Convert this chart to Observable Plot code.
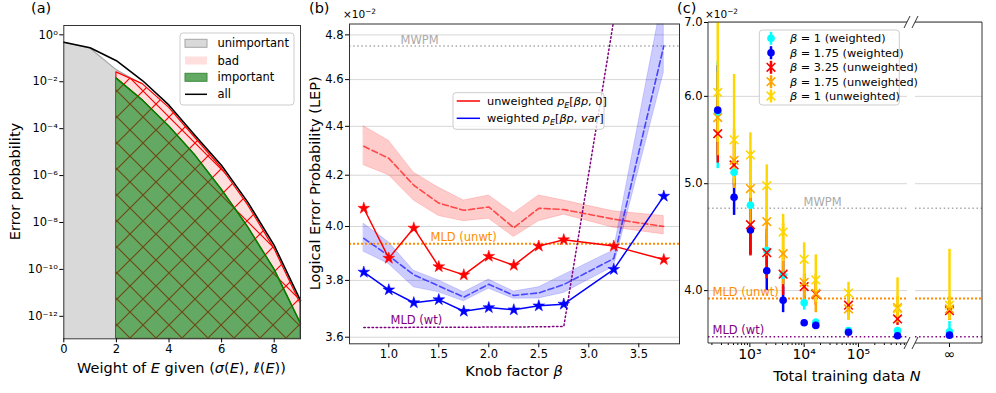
<!DOCTYPE html>
<html>
<head>
<meta charset="utf-8">
<script src="https://cdn.jsdelivr.net/npm/d3@7"></script>
<script src="https://cdn.jsdelivr.net/npm/@observablehq/plot@0.6"></script>
<style>
  html, body { margin: 0; padding: 0; background: #fff; }
  #chart { position: relative; width: 996px; height: 393px; overflow: hidden; font-family: "DejaVu Sans", sans-serif; }
  #chart > svg { position: absolute; left: 0; top: 0; }
</style>
</head>
<body>
<div id="chart"></div>
<script>
// ================= DATA =================
// ---- Panel (a) ----
const aWeights = [0, 1, 2, 3, 4, 5, 6, 7, 8, 9];
const aAll = [4.8e-1, 2.8e-1, 7.9e-2, 1.1e-2, 1.0e-3, 5.0e-5, 2.7e-6, 7.2e-8, 1.05e-9, 4.7e-12];
const aUnimpWeights = [0, 1, 2, 3, 4];
const aUnimportant = [4.8e-1, 2.7e-1, 3.2e-2, 7.6e-3, 7.6e-4];
const aImpWeights = [2, 3, 4, 5, 6, 7, 8, 9];
const aImportant = [1.4e-2, 1.6e-3, 1.26e-4, 7.1e-6, 2.5e-7, 6.3e-9, 1.0e-10, 5.0e-13];
const aBadTop = [2.5e-2, 7.9e-3, 7.9e-4, 4.0e-5, 2.1e-6, 5.6e-8, 7.9e-10, 3.5e-12];
const aXTicks = [0, 2, 4, 6, 8];
const aYTicks = [1, 1e-2, 1e-4, 1e-6, 1e-8, 1e-10, 1e-12];
const aYTickLabels = ["10⁰", "10⁻²", "10⁻⁴", "10⁻⁶", "10⁻⁸", "10⁻¹⁰", "10⁻¹²"];
const aLegendLabels = ["unimportant", "bad", "important", "all"];
const aYDomain = [1.1e-13, 2.5];

// ---- Panel (b) ----
const bBeta = [0.75, 1.0, 1.25, 1.5, 1.75, 2.0, 2.25, 2.5, 2.75, 3.25, 3.75];
const bUnwtStar = [4.07, 3.881, 3.994, 3.85, 3.82, 3.888, 3.855, 3.926, 3.95, 3.926, 3.876];
const bWtStar = [3.83, 3.766, 3.72, 3.731, 3.69, 3.703, 3.695, 3.709, 3.715, 3.84, 4.117];
const bUnwtMean = [4.317, 4.268, 4.16, 4.09, 4.062, 4.075, 3.995, 4.07, 4.065, 4.028, 4.0];
const bUnwtLo = [4.24, 4.20, 4.10, 4.04, 4.02, 4.03, 3.96, 4.02, 4.045, 3.995, 3.97];
const bUnwtHi = [4.40, 4.34, 4.21, 4.15, 4.10, 4.12, 4.05, 4.12, 4.10, 4.058, 4.04];
const bWtMean = [3.955, 3.89, 3.82, 3.78, 3.74, 3.786, 3.746, 3.755, 3.785, 3.88, 4.75];
const bWtLo = [3.905, 3.86, 3.775, 3.757, 3.725, 3.77, 3.734, 3.735, 3.755, 3.85, 4.63];
const bWtHi = [4.01, 3.94, 3.835, 3.80, 3.757, 3.803, 3.76, 3.775, 3.82, 3.91, 5.0];
const bMldWt = [3.633, 3.633, 3.634, 3.634, 3.634, 3.635, 3.635, 3.636, 3.637, 4.87, null];
const bXTicks = [1.0, 1.5, 2.0, 2.5, 3.0, 3.5];
const bYTicks = [3.6, 3.8, 4.0, 4.2, 4.4, 4.6, 4.8];
const bLegendNames = ["unweighted", "weighted"];
const refMWPM = 4.75, refMldUnwt = 3.935, refMldWt = 3.633;
const refLabels = ["MWPM", "MLD (unwt)", "MLD (wt)"];

// ---- Panel (c) ----
const cN = [256, 512, 1024, 2048, 4096, 10000, 16384, 65536, 524288, Infinity];
const cW1 = [5.80, 5.12, 4.78, 4.35, 4.13, 3.90, 3.745, 3.68, 3.68, 3.67];
const cW1Lo = [5.16, 4.98, 4.62, 4.22, 4.02, 3.84, 3.72, 3.66, 3.66, 3.66];
const cW1Hi = [6.45, 5.28, 4.95, 4.50, 4.25, 3.96, 3.77, 3.70, 3.70, 3.75];
const cW175 = [5.83, 4.86, 4.54, 4.17, 3.92, 3.74, 3.72, 3.667, 3.64, 3.645];
const cW175Lo = [5.30, 4.68, 4.31, 4.00, 3.82, 3.72, 3.70, 3.655, 3.63, 3.635];
const cW175Hi = [6.40, 5.05, 4.80, 4.36, 4.03, 3.76, 3.74, 3.68, 3.65, 3.655];
const cU325 = [5.55, 5.20, 4.59, 4.33, 4.14, 4.034, 3.97, 3.88, 3.77, 3.836];
const cU325Lo = [5.22, 4.98, 4.30, 4.10, 3.96, 3.93, 3.88, 3.80, 3.72, 3.76];
const cU325Hi = [5.95, 5.45, 4.85, 4.55, 4.33, 4.14, 4.06, 3.95, 3.82, 3.90];
const cU175 = [5.74, 5.25, 4.95, 4.62, 4.32, 4.07, 3.978, 3.85, 3.86, 3.85];
const cU175Lo = [5.30, 4.95, 4.55, 4.30, 4.05, 3.90, 3.82, 3.76, 3.77, 3.76];
const cU175Hi = [6.30, 5.60, 5.35, 4.95, 4.60, 4.25, 4.14, 3.97, 3.95, 3.95];
const cU1 = [6.05, 5.48, 5.31, 4.98, 4.52, 4.27, 4.09, 3.98, 3.85, 3.88];
const cU1Lo = [5.45, 5.00, 4.85, 4.60, 4.25, 4.05, 3.90, 3.76, 3.74, 3.76];
const cU1Hi = [7.60, 6.28, 5.56, 5.20, 4.69, 4.42, 4.31, 4.07, 4.108, 4.36];
const cLegendBeta = ["1", "1.75", "3.25", "1.75", "1"];
const cLegendKind = ["(weighted)", "(weighted)", "(unweighted)", "(unweighted)", "(unweighted)"];
const cXMajor = [1e3, 1e4, 1e5];
const cXTickLabels = ["10³", "10⁴", "10⁵", "∞"];
const cYTicks = [4, 5, 6, 7];
const cYDomain = [3.582, 7.0];

// ================= STYLES =================
const W = 996, H = 393;
const FONT = '"DejaVu Sans", sans-serif';
const cColors = ["#00ffff", "#0000ff", "#ff0000", "#ffa500", "#ffd700"];
const cSymbols = ["circle", "circle", "times", "times", "times"];
const colGray = "#a9a9a9", colOrange = "#ff8c00", colPurple = "#800080";

const root = d3.select("#chart");

// hatch patterns
const defsSvg = root.append("svg").attr("width", 0).attr("height", 0);
const defs = defsSvg.append("defs");
function hatch(id, color) {
  const p = defs.append("pattern").attr("id", id).attr("patternUnits", "userSpaceOnUse")
    .attr("width", 26).attr("height", 26);
  p.append("path").attr("d", "M-2,-2L28,28M28,-2L-2,28").attr("stroke", color)
    .attr("stroke-width", 1.2).attr("fill", "none");
}
hatch("hatchBrown", "#6b4a12");
hatch("hatchRed", "#ff0000");

function mkPlot(opts) {
  const svg = Plot.plot(Object.assign({
    width: W, height: H,
    style: {fontFamily: FONT, fontSize: "11.5px", background: "transparent", color: "#000", overflow: "visible"}
  }, opts));
  root.node().appendChild(svg);
  return svg;
}

// ================= PANEL (a) =================
const aRecsAll = aWeights.map((w, i) => ({w, v: aAll[i]}));
const aRecsUnimp = aUnimpWeights.map((w, i) => ({w, v: aUnimportant[i]}));
const aRecsImp = aImpWeights.map((w, i) => ({w, imp: aImportant[i], top: aBadTop[i]}));
const aYMin = aYDomain[0];

mkPlot({
  marginLeft: 63.3, marginRight: W - 300, marginTop: 25, marginBottom: H - 338.3,
  x: {domain: [0, 9]},
  y: {type: "log", domain: aYDomain},
  marks: [
    Plot.areaY(aRecsUnimp, {x: "w", y1: aYMin, y2: "v", fill: "#d9d9d9"}),
    Plot.line(aRecsUnimp, {x: "w", y: "v", stroke: "#a6a6a6", strokeWidth: 1.2}),
    Plot.areaY(aRecsImp, {x: "w", y1: "imp", y2: "top", fill: "#ffdede"}),
    Plot.areaY(aRecsImp, {x: "w", y1: "imp", y2: "top", fill: "url(#hatchRed)", stroke: "#ff0000", strokeWidth: 1.2}),
    Plot.areaY(aRecsImp, {x: "w", y1: aYMin, y2: "imp", fill: "#63a863"}),
    Plot.areaY(aRecsImp, {x: "w", y1: aYMin, y2: "imp", fill: "url(#hatchBrown)", stroke: "#55621c", strokeWidth: 1}),
    Plot.line(aRecsImp, {x: "w", y: "imp", stroke: "#008000", strokeWidth: 1.5}),
    Plot.line(aRecsAll, {x: "w", y: "v", stroke: "#000", strokeWidth: 1.6}),
    Plot.frame({stroke: "#333"}),
    Plot.axisX({ticks: aXTicks, tickFormat: d => String(d), tickSize: 4, tickPadding: 2, label: null}),
    Plot.axisY({ticks: aYTicks, tickFormat: d => aYTickLabels[aYTicks.indexOf(d)], tickSize: 4, tickPadding: 2, label: null})
  ]
});

// ================= PANEL (b) =================
const bRecs = bBeta.map((b, i) => ({
  b, us: bUnwtStar[i], ws: bWtStar[i], um: bUnwtMean[i], ul: bUnwtLo[i], uh: bUnwtHi[i],
  wm: bWtMean[i], wl: bWtLo[i], wh: bWtHi[i], mw: bMldWt[i]
}));
const fmt1 = d3.format(".1f");
mkPlot({
  marginLeft: 349, marginRight: W - 679, marginTop: 23.5, marginBottom: H - 343.3,
  x: {domain: [0.607, 3.907]},
  y: {type: "log", domain: [3.5775, 4.85]},
  marks: [
    Plot.gridY({ticks: bYTicks, stroke: "#d6d6d6", strokeOpacity: 1, strokeWidth: 1}),
    Plot.ruleY([refMWPM], {stroke: colGray, strokeWidth: 1.5, strokeDasharray: "1.5,2.6"}),
    Plot.areaY(bRecs, {x: "b", y1: "ul", y2: "uh", fill: "#ff0000", fillOpacity: 0.2, stroke: "#ff0000", strokeOpacity: 0.15, clip: true}),
    Plot.line(bRecs, {x: "b", y: "um", stroke: "#ff0000", strokeOpacity: 0.65, strokeWidth: 1.6, strokeDasharray: "6,3", clip: true}),
    Plot.areaY(bRecs, {x: "b", y1: "wl", y2: "wh", fill: "#0000ff", fillOpacity: 0.2, stroke: "#0000ff", strokeOpacity: 0.15, clip: true}),
    Plot.line(bRecs, {x: "b", y: "wm", stroke: "#0000ff", strokeOpacity: 0.65, strokeWidth: 1.6, strokeDasharray: "6,3", clip: true}),
    Plot.ruleY([refMldUnwt], {stroke: colOrange, strokeWidth: 2, strokeDasharray: "2,2"}),
    Plot.line(bRecs, {x: "b", y: "mw", stroke: colPurple, strokeWidth: 1.5, strokeDasharray: "1.5,2.6", clip: true}),
    Plot.line(bRecs, {x: "b", y: "us", stroke: "#ff0000", strokeWidth: 1.5}),
    Plot.dot(bRecs, {x: "b", y: "us", symbol: "star", r: 3.7, fill: "#ff0000", stroke: "#ff0000", strokeWidth: 0.5}),
    Plot.line(bRecs, {x: "b", y: "ws", stroke: "#0000ff", strokeWidth: 1.5}),
    Plot.dot(bRecs, {x: "b", y: "ws", symbol: "star", r: 3.7, fill: "#0000ff", stroke: "#0000ff", strokeWidth: 0.5}),
    Plot.text([refLabels[0]], {text: d => d, y: () => refMWPM, frameAnchor: "left", dx: 51, dy: -6, textAnchor: "start", fill: "#aaaaaa"}),
    Plot.text([refLabels[1]], {text: d => d, y: () => refMldUnwt, frameAnchor: "left", dx: 81, dy: -6, textAnchor: "start", fill: colOrange}),
    Plot.text([refLabels[2]], {text: d => d, y: () => refMldWt, frameAnchor: "left", dx: 41, dy: -7, textAnchor: "start", fill: colPurple}),
    Plot.frame({stroke: "#333"}),
    Plot.axisX({ticks: bXTicks, tickFormat: fmt1, tickSize: 4, tickPadding: 2, label: null}),
    Plot.axisY({ticks: bYTicks, tickFormat: fmt1, tickSize: 4, tickPadding: 2, label: null})
  ]
});

// ================= PANEL (c) =================
const cVals = [cW1, cW175, cU325, cU175, cU1];
const cLos = [cW1Lo, cW175Lo, cU325Lo, cU175Lo, cU1Lo];
const cHis = [cW1Hi, cW175Hi, cU325Hi, cU175Hi, cU1Hi];
const cRecs = cVals.map((vals, s) => cN.map((N, i) => ({
  N, key: Number.isFinite(N) ? N : cXTickLabels[3], v: vals[i], lo: cLos[s][i], hi: cHis[s][i]
})));
const cMinor = [];
for (const e of [2, 3, 4, 5]) for (let m = 2; m <= 9; m++) { const t = m * Math.pow(10, e); if (t > 173 && t < 7.9e5) cMinor.push(t); }

function cMarks(finite) {
  const recs = cRecs.map(r => r.filter(d => Number.isFinite(d.N) === finite));
  const xk = finite ? "N" : "key";
  const m = [
    Plot.gridY({ticks: cYTicks, stroke: "#d6d6d6", strokeOpacity: 1, strokeWidth: 1}),
    Plot.ruleY([refMWPM], {stroke: colGray, strokeWidth: 1.5, strokeDasharray: "1.5,2.6"}),
    Plot.ruleY([refMldUnwt], {stroke: colOrange, strokeWidth: 2, strokeDasharray: "2,2"}),
    Plot.ruleY([refMldWt], {stroke: colPurple, strokeWidth: 1.5, strokeDasharray: "1.5,2.6"})
  ];
  recs.forEach((r, s) => m.push(Plot.ruleX(r, {x: xk, y1: "lo", y2: "hi", stroke: cColors[s], strokeWidth: 2.5, clip: true})));
  recs.forEach((r, s) => {
    if (cSymbols[s] === "circle") m.push(Plot.dot(r, {x: xk, y: "v", r: 3.8, symbol: "circle", fill: cColors[s]}));
    else m.push(Plot.dot(r, {x: xk, y: "v", r: 4, symbol: "times", stroke: cColors[s], strokeWidth: 1.6}));
  });
  return m;
}

mkPlot({
  marginLeft: 708, marginRight: W - 907, marginTop: 22, marginBottom: H - 343,
  x: {type: "log", domain: [173, 8.0e5]},
  y: {type: "log", domain: cYDomain},
  marks: [
    ...cMarks(true),
    Plot.text([refLabels[0]], {text: d => d, y: () => refMWPM, frameAnchor: "left", dx: 95, dy: -6, textAnchor: "start", fill: "#aaaaaa"}),
    Plot.text([refLabels[1]], {text: d => d, y: () => refMldUnwt, frameAnchor: "left", dx: 4, dy: -6, textAnchor: "start", fill: colOrange}),
    Plot.text([refLabels[2]], {text: d => d, y: () => refMldWt, frameAnchor: "left", dx: 4, dy: -6, textAnchor: "start", fill: colPurple}),
    Plot.axisX({ticks: cXMajor, tickFormat: d => cXTickLabels[cXMajor.indexOf(d)], tickSize: 4, tickPadding: 2, fontSize: 14, label: null}),
    Plot.axisX({ticks: cMinor, tickFormat: () => "", tickSize: 2, label: null}),
    Plot.axisY({ticks: cYTicks, tickFormat: fmt1, tickSize: 4, tickPadding: 2, label: null})
  ]
});

mkPlot({
  marginLeft: 915, marginRight: W - 982, marginTop: 22, marginBottom: H - 343,
  x: {type: "point", domain: [cXTickLabels[3]]},
  y: {type: "log", domain: cYDomain, axis: null},
  marks: [
    ...cMarks(false),
    Plot.axisX({tickSize: 4, tickPadding: 2, fontSize: 14, label: null})
  ]
});

// ================= OVERLAY (labels, legends, spines) =================
const ov = root.append("svg").attr("width", W).attr("height", H).style("font-family", FONT);

function rich(parent, x, y, parts, opts = {}) {
  const size = opts.size || 11;
  const t = parent.append("text").attr("x", x).attr("y", y).attr("font-size", size).attr("fill", opts.fill || "#000");
  if (opts.anchor) t.attr("text-anchor", opts.anchor);
  if (opts.transform) t.attr("transform", opts.transform);
  let shift = 0;
  for (const p of parts) {
    const s = t.append("tspan").text(p.t);
    if (p.i) s.attr("font-style", "italic");
    const target = p.sub ? 3 : p.sup ? -4.5 : 0;
    if (target !== shift) { s.attr("dy", target - shift); shift = target; }
    if (p.sub || p.sup) s.attr("font-size", size * 0.7);
  }
  return t;
}

// panel letters
rich(ov, 31, 12.5, [{t: "(a)"}], {size: 14.5});
rich(ov, 309, 12.5, [{t: "(b)"}], {size: 14.5});
rich(ov, 677, 12.5, [{t: "(c)"}], {size: 14.5});
// multipliers
rich(ov, 343, 18, [{t: "×10"}, {t: "−2", sup: 1}], {size: 10.5});
rich(ov, 705, 18, [{t: "×10"}, {t: "−2", sup: 1}], {size: 10.5});

// axis labels
rich(ov, 0, 0, [{t: "Error probability"}], {size: 14.5, anchor: "middle", transform: "translate(20,181.5) rotate(-90)"});
rich(ov, 181.5, 372.5, [{t: "Weight of "}, {t: "E", i: 1}, {t: " given ("}, {t: "σ", i: 1}, {t: "("}, {t: "E", i: 1}, {t: "), "}, {t: "ℓ", i: 1}, {t: "("}, {t: "E", i: 1}, {t: "))"}], {size: 14.5, anchor: "middle"});
rich(ov, 0, 0, [{t: "Logical Error Probability (LEP)"}], {size: 14.5, anchor: "middle", transform: "translate(319.5,183.4) rotate(-90)"});
rich(ov, 514, 375.5, [{t: "Knob factor "}, {t: "β", i: 1}], {size: 14.5, anchor: "middle"});
rich(ov, 847, 380.5, [{t: "Total training data "}, {t: "N", i: 1}], {size: 14.5, anchor: "middle"});

// panel (c) spines and break marks
const sp = ov.append("g").attr("stroke", "#333").attr("stroke-width", 1).attr("fill", "none");
sp.append("path").attr("d", "M907,22H708V343H907");
sp.append("path").attr("d", "M915,22H982V343H915");
for (const x0 of [907, 915]) for (const y0 of [22, 343]) {
  sp.append("line").attr("x1", x0 - 3).attr("y1", y0 + 6).attr("x2", x0 + 3).attr("y2", y0 - 6);
}

// legend (a)
const la = ov.append("g");
la.append("rect").attr("x", 180).attr("y", 33).attr("width", 114).attr("height", 72).attr("rx", 3)
  .attr("fill", "#fff").attr("fill-opacity", 0.8).attr("stroke", "#cccccc");
const aRowY = [43.3, 60.5, 77.3, 94.3];
la.append("rect").attr("x", 185).attr("y", aRowY[0] - 4).attr("width", 22).attr("height", 8).attr("fill", "#d9d9d9").attr("stroke", "#a6a6a6");
la.append("rect").attr("x", 185).attr("y", aRowY[1] - 4).attr("width", 22).attr("height", 8).attr("fill", "#ffdede");
la.append("rect").attr("x", 185).attr("y", aRowY[2] - 4).attr("width", 22).attr("height", 8).attr("fill", "#63a863").attr("stroke", "#3c8c3c");
la.append("line").attr("x1", 185).attr("x2", 207).attr("y1", aRowY[3]).attr("y2", aRowY[3]).attr("stroke", "#000").attr("stroke-width", 1.5);
aLegendLabels.forEach((l, i) => rich(la, 217.5, aRowY[i] + 4, [{t: l}], {size: 11.5}));

// legend (b)
const lb = ov.append("g");
lb.append("rect").attr("x", 453).attr("y", 92.7).attr("width", 151).attr("height", 36.6).attr("rx", 3)
  .attr("fill", "#fff").attr("fill-opacity", 0.8).attr("stroke", "#cccccc");
const bRowY = [101, 118.3];
const bRowCol = ["#ff0000", "#0000ff"];
bRowY.forEach((y, i) => lb.append("line").attr("x1", 456.7).attr("x2", 480).attr("y1", y).attr("y2", y).attr("stroke", bRowCol[i]).attr("stroke-width", 1.5));
rich(lb, 487, bRowY[0] + 4, [{t: bLegendNames[0] + " "}, {t: "p", i: 1}, {t: "E", i: 1, sub: 1}, {t: "["}, {t: "βp", i: 1}, {t: ", 0]"}], {size: 11.3});
rich(lb, 487, bRowY[1] + 4, [{t: bLegendNames[1] + " "}, {t: "p", i: 1}, {t: "E", i: 1, sub: 1}, {t: "["}, {t: "βp", i: 1}, {t: ", "}, {t: "var", i: 1}, {t: "]"}], {size: 11.3});

// legend (c)
const lc = ov.append("g");
lc.append("rect").attr("x", 759.3).attr("y", 30).attr("width", 140).attr("height", 75).attr("rx", 3)
  .attr("fill", "#fff").attr("fill-opacity", 0.8).attr("stroke", "#cccccc");
const cRowY = [38.3, 52.7, 67.3, 81.7, 96];
cRowY.forEach((y, s) => {
  lc.append("line").attr("x1", 771).attr("x2", 771).attr("y1", y - 6.5).attr("y2", y + 6.5).attr("stroke", cColors[s]).attr("stroke-width", 2.5);
  if (cSymbols[s] === "circle") lc.append("circle").attr("cx", 771).attr("cy", y).attr("r", 3.8).attr("fill", cColors[s]);
  else lc.append("path").attr("transform", `translate(771,${y})`).attr("d", d3.symbol(d3.symbolTimes, Math.PI * 16)()).attr("fill", "none").attr("stroke", cColors[s]).attr("stroke-width", 1.6);
  rich(lc, 790, y + 4, [{t: "β", i: 1}, {t: " = " + cLegendBeta[s] + " " + cLegendKind[s]}], {size: 11.3});
});
</script>
</body>
</html>
